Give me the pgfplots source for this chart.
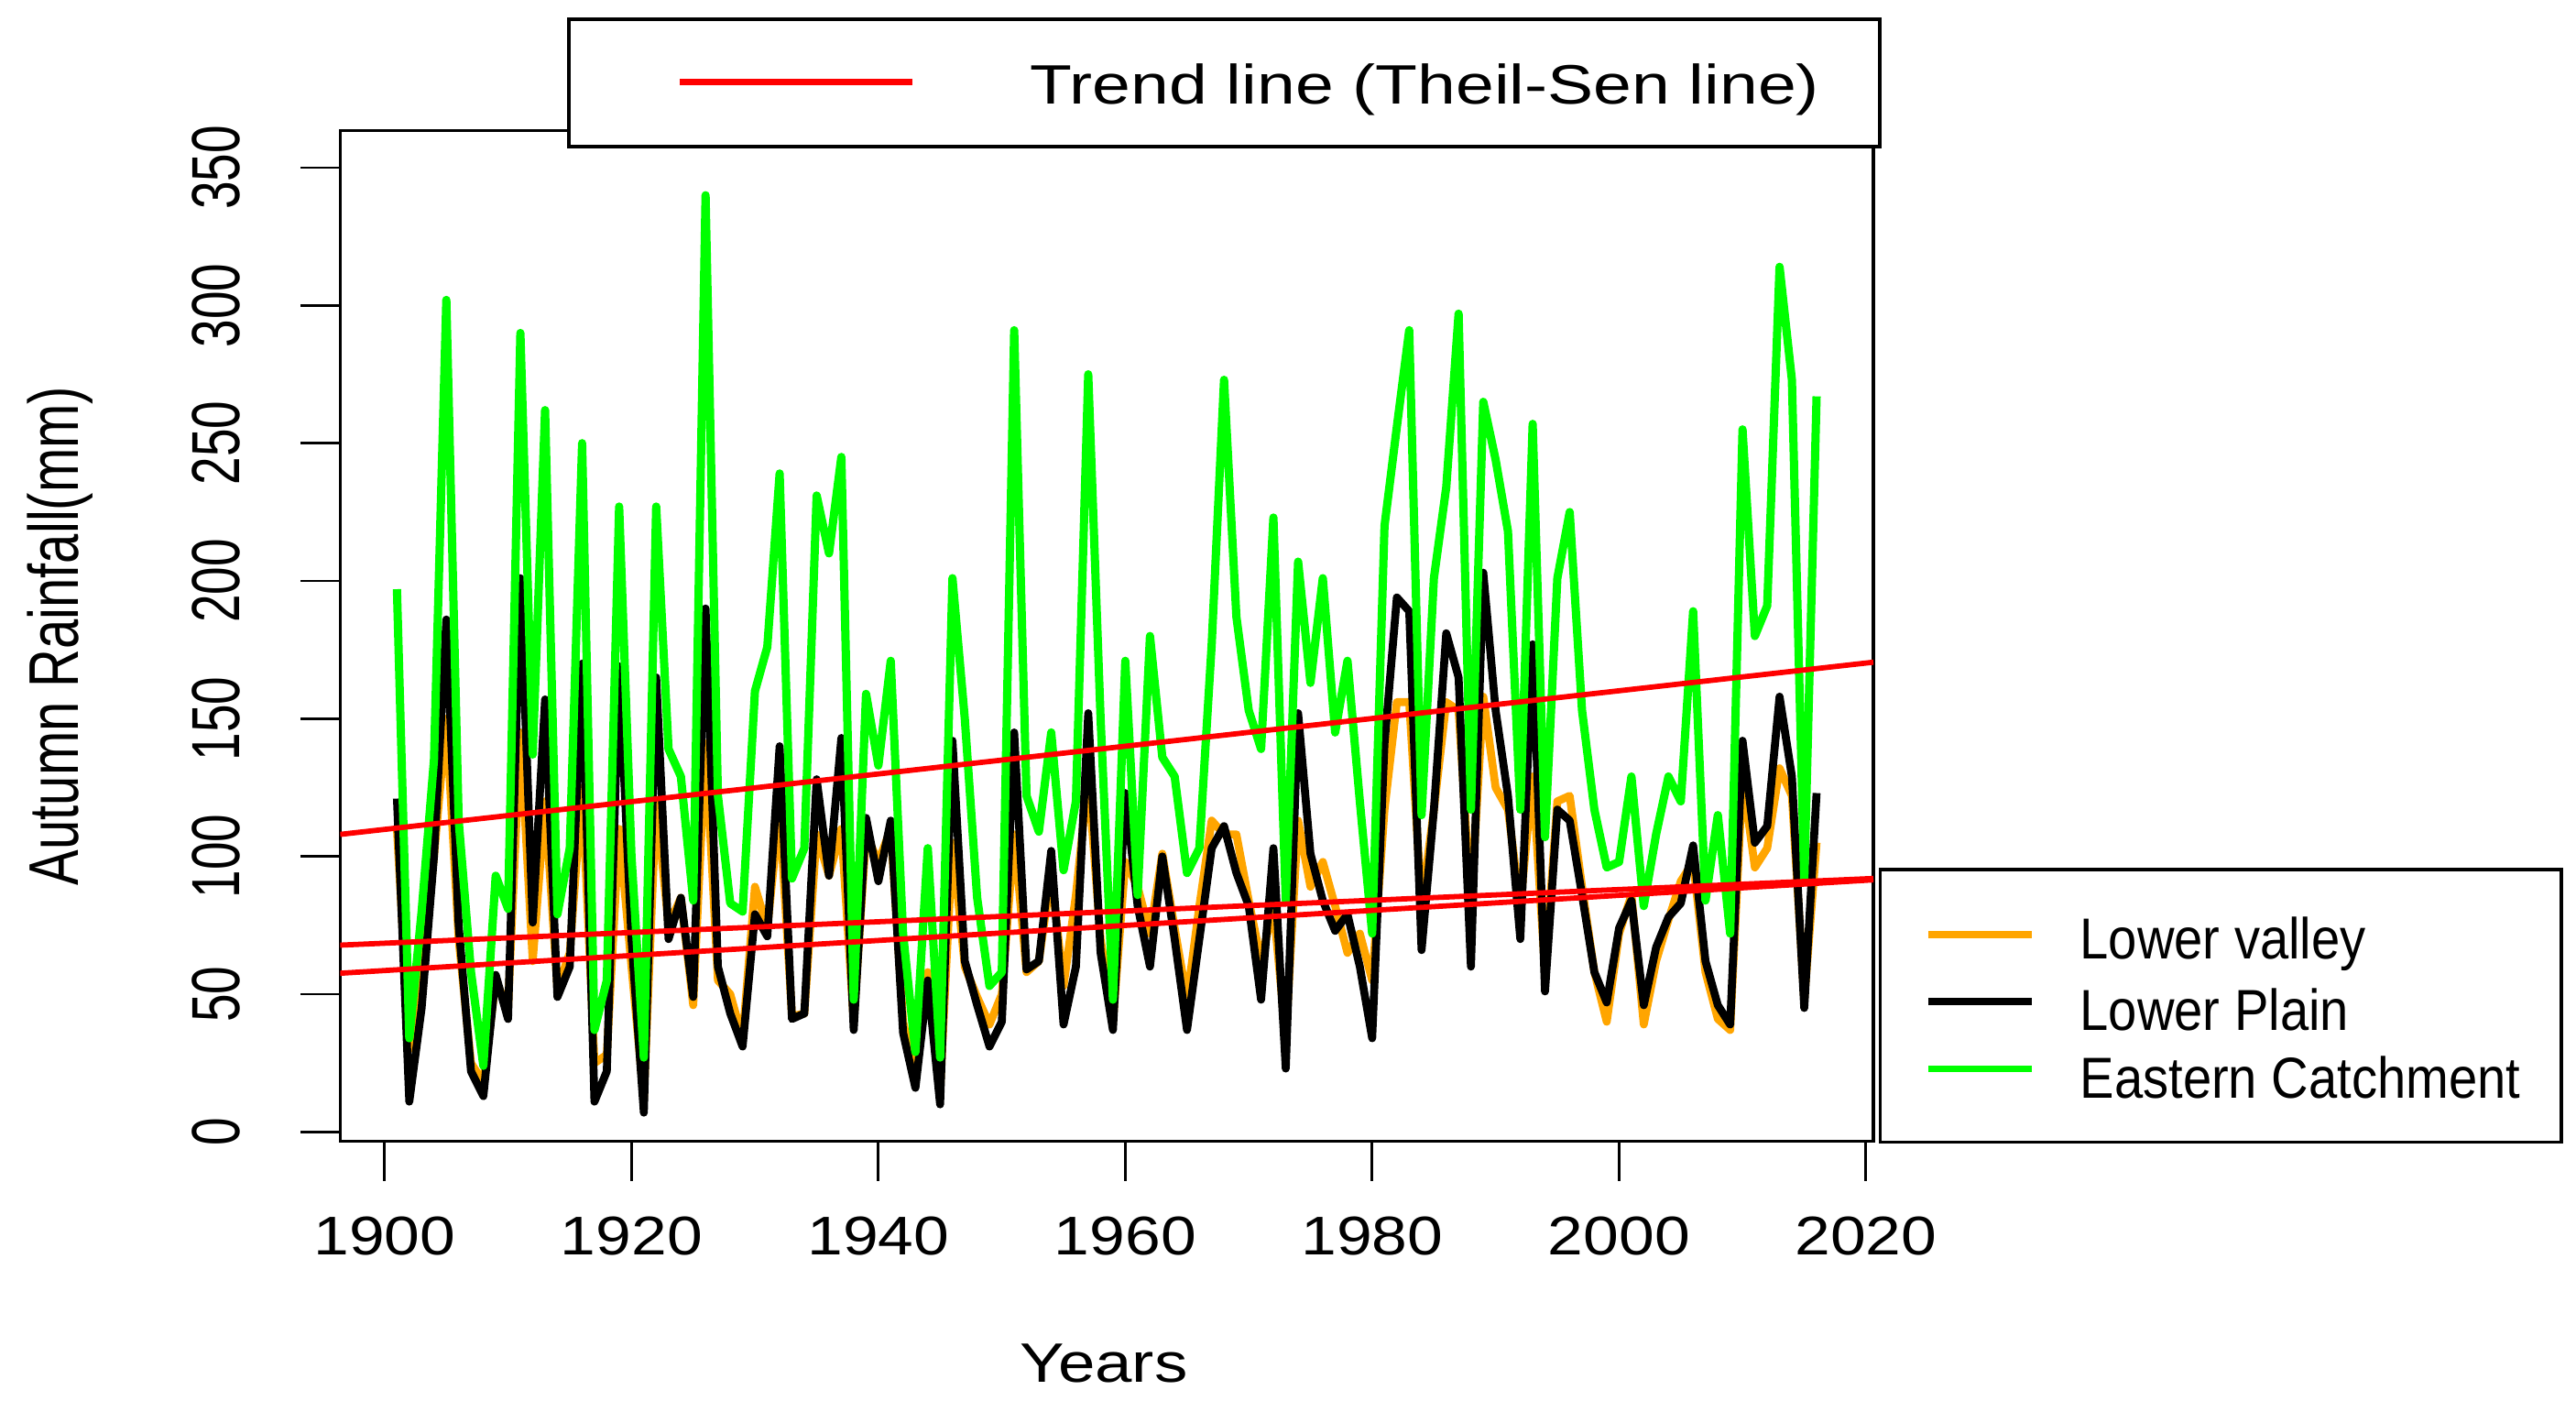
\documentclass[border=0pt]{standalone}
\usepackage{fontspec}
\setmainfont{Liberation Sans}
\newfontfamily\xtickfont[FakeStretch=1.17]{Liberation Sans}
\newfontfamily\ytickfont[FakeStretch=0.74]{Liberation Sans}
\newfontfamily\xlabfont[FakeStretch=1.2]{Liberation Sans}
\newfontfamily\ylabfont[FakeStretch=0.755]{Liberation Sans}
\newfontfamily\toplegfont[FakeStretch=1.24]{Liberation Sans}
\newfontfamily\rlegfont[FakeStretch=0.89]{Liberation Sans}
\usepackage{pgfplots}
\usepackage{pgfplotstable}
\pgfplotsset{compat=1.18}

\definecolor{rorange}{RGB}{255,165,0}
\definecolor{rgreen}{RGB}{0,255,0}
\definecolor{rred}{RGB}{255,0,0}

% autumn rainfall (mm): lower valley, lower plain, eastern catchment
\pgfplotstableread{
year lv lp ec
1901 110 121 197
1902 30 11 34
1903 55 45 80
1904 100 100 135
1905 150 186 302
1906 70 75 113
1907 25 22 58
1908 18 13 24
1909 55 57 93
1910 45 41 81
1911 145 201 290
1912 62 76 137
1913 120 157 262
1914 52 49 79
1915 65 60 103
1916 125 170 250
1917 25 11 37
1918 28 22 55
1919 110 169 227
1920 60 70 100
1921 12 7 27
1922 120 165 227
1923 75 70 139
1924 85 85 129
1925 46 49 84
1926 141 190 340
1927 55 60 122
1928 50 43 83
1929 34 31 80
1930 89 79 160
1931 74 71 176
1932 117 140 239
1933 42 41 92
1934 43 43 103
1935 108 128 231
1936 93 93 210
1937 110 143 245
1938 40 37 48
1939 108 114 159
1940 98 91 133
1941 110 113 171
1942 40 36 72
1943 20 16 29
1944 58 55 103
1945 15 10 27
1946 105 142 201
1947 60 62 150
1948 49 46 85
1949 39 31 53
1950 50 40 58
1951 108 145 291
1952 58 59 122
1953 62 62 109
1954 94 102 145
1955 53 39 95
1956 86 60 120
1957 129 152 275
1958 70 65 150
1959 40 37 48
1960 98 123 171
1961 89 82 86
1962 72 60 180
1963 101 100 136
1964 74 70 129
1965 48 37 94
1966 82 70 103
1967 113 103 177
1968 108 111 273
1969 108 94 187
1970 84 82 153
1971 62 48 139
1972 82 103 223
1973 34 23 84
1974 113 152 207
1975 89 101 163
1976 98 84 201
1977 82 73 145
1978 65 79 171
1979 72 60 120
1980 55 34 72
1981 117 141 220
1982 156 194 256
1983 156 189 291
1984 82 66 115
1985 117 117 201
1986 156 181 234
1987 153 165 297
1988 82 60 117
1989 158 203 265
1990 125 153 244
1991 117 122 218
1992 82 70 117
1993 129 177 257
1994 58 51 107
1995 120 117 201
1996 122 113 225
1997 89 86 153
1998 58 58 117
1999 40 47 96
2000 72 74 98
2001 86 84 129
2002 39 46 82
2003 62 67 108
2004 77 78 129
2005 91 83 120
2006 98 104 189
2007 58 62 84
2008 41 46 115
2009 37 39 72
2010 129 142 255
2011 96 105 180
2012 103 111 191
2013 132 158 314
2014 122 129 273
2015 48 45 91
2016 105 123 267
}\rain

% Theil-Sen lines, end points read at the plot edges
\pgfplotstableread{
x y
1896.4 108
2020.6 170.5
}\trendec
\pgfplotstableread{
x y
1896.4 67.8
2020.6 92
}\trendlp
\pgfplotstableread{
x y
1896.4 57.6
2020.6 91.5
}\trendlv

\begin{document}
\begin{tikzpicture}
\useasboundingbox (-103pt,-78.35pt) rectangle (677pt,345.5pt);
\begin{axis}[
  at={(0,0)}, anchor=south west,
  scale only axis, width=464.25pt, height=306pt,
  xmin=1896.4, xmax=2020.6, ymin=-3.4, ymax=363.5,
  xtick={1900,1920,...,2020}, ytick={0,50,...,350},
  tick align=outside, xtick pos=bottom, ytick pos=left,
  major tick length=12pt,
  axis line style={line width=1pt},
  tick style={black, line width=0.8pt},
  /pgf/number format/1000 sep={},
  /pgf/number format/assume math mode=true,
  xticklabel style={font=\xtickfont\fontsize{16.5pt}{18pt}\selectfont, yshift=-22.5pt, anchor=base},
  yticklabel style={font=\ytickfont\fontsize{20.6pt}{22pt}\selectfont, xshift=-18.5pt, rotate=90, anchor=base},
  xlabel={Years},
  ylabel={Autumn Rainfall(mm)},
  every axis x label/.style={at={(axis description cs:0.498,-0.2379)}, anchor=base,
    font=\xlabfont\fontsize{16.8pt}{19pt}\selectfont},
  every axis y label/.style={at={(axis description cs:-0.171,0.5)}, rotate=90, anchor=base,
    font=\ylabfont\fontsize{21.3pt}{24pt}\selectfont},
  every axis plot/.append style={line join=round},
]
\addplot[rorange, line width=2.4pt] table[x=year, y=lv] {\rain};
\addplot[black, line width=2.4pt] table[x=year, y=lp] {\rain};
\addplot[rgreen, line width=2.5pt] table[x=year, y=ec] {\rain};
\addplot[rred, line width=1.6pt] table {\trendec};
\addplot[rred, line width=1.6pt] table {\trendlp};
\addplot[rred, line width=1.6pt] table {\trendlv};
\end{axis}
% top legend
\draw[fill=white, line width=1pt] (69.25pt,301.1pt) rectangle (466.2pt,339.75pt);
\draw[rred, line width=2pt] (102.8pt,320.7pt) -- (173.3pt,320.7pt);
\node[anchor=base west, inner sep=0pt, font=\toplegfont\fontsize{16.8pt}{19pt}\selectfont]
  at (208.8pt,314.1pt) {Trend line (Theil-Sen line)};
% right legend
\draw[fill=white, line width=1pt] (466.3pt,-0.3pt) rectangle (672.5pt,82.2pt);
\draw[rorange, line width=2.1pt] (480.9pt,62.55pt) -- (512.1pt,62.55pt);
\draw[black, line width=2.1pt] (480.9pt,42.25pt) -- (512.1pt,42.25pt);
\draw[rgreen, line width=2.1pt] (480.9pt,21.9pt) -- (512.1pt,21.9pt);
\begin{scope}[every node/.style={anchor=base west, inner sep=0pt,
    font=\rlegfont\fontsize{17.5pt}{20pt}\selectfont}]
\node at (526.65pt,55.2pt) {Lower valley};
\node at (526.65pt,33.45pt) {Lower Plain};
\node at (526.65pt,13.1pt) {Eastern Catchment};
\end{scope}
\end{tikzpicture}
\end{document}
